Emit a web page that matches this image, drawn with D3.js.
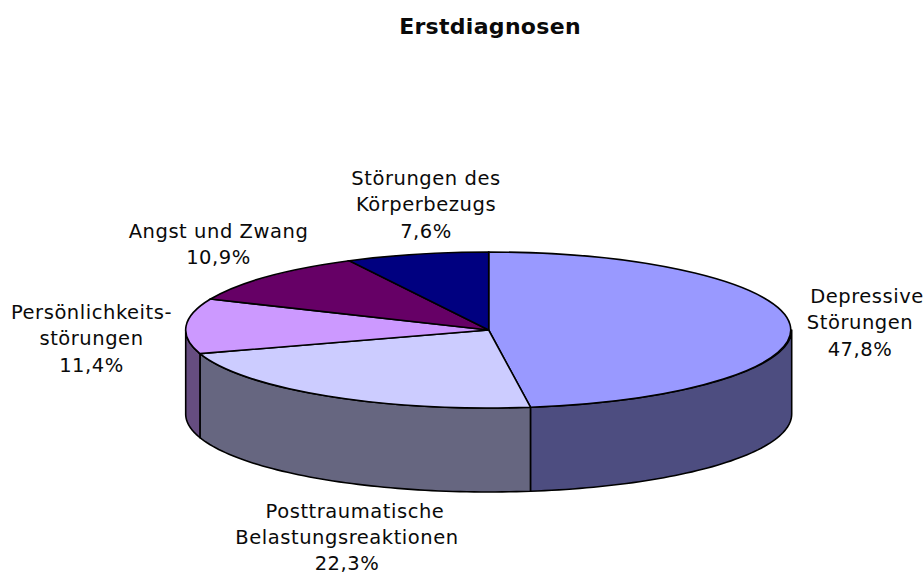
<!DOCTYPE html>
<html>
<head>
<meta charset="utf-8">
<style>
  body { margin: 0; background: #fff; }
  text { font-family: "DejaVu Sans", sans-serif; fill: #0a0a0a; }
</style>
</head>
<body>
<svg width="924" height="574"></svg>
<script src="https://d3js.org/d3.v7.min.js"></script>
<script>
  var title = 'Erstdiagnosen'
  var categories = ['Depressive|Störungen', 'Posttraumatische|Belastungsreaktionen', 'Persönlichkeits-|störungen', 'Angst und Zwang', 'Störungen des|Körperbezugs']
  var percents = [47.8, 22.3, 11.4, 10.9, 7.6]
  var topColors = ['#9999ff', '#ccccff', '#cc99ff', '#660066', '#000080']
  var wallColors = ['#4d4d80', '#666680', '#664d80', '#330033', '#000040']

  var cx = 488.7, cy = 330, rx = 303, ry = 78, depth = 84

  var svg = d3.select('svg')

  // the pie is a flat unit circle squashed by these two scales
  var x = d3.scaleLinear().domain([-1, 1]).range([cx - rx, cx + rx])
  var y = d3.scaleLinear().domain([-1, 1]).range([cy - ry, cy + ry])

  var slices = d3.pie().sort(null).value(function(d) { return d })(percents)

  function rim(a, drop) {
    return [x(Math.sin(a)), y(-Math.cos(a)) + drop]
  }

  // wall of a slice, only the part of the rim facing the viewer
  function wallPath(d) {
    var a0 = Math.max(d.startAngle, Math.PI / 2)
    var a1 = Math.min(d.endAngle, Math.PI * 3 / 2)
    if (a1 <= a0) return null
    var n = 60
    var angles = d3.range(n + 1).map(function(i) { return a0 + (a1 - a0) * i / n })
    var pts = angles.map(function(a) { return rim(a, 0) })
      .concat(angles.slice().reverse().map(function(a) { return rim(a, depth) }))
    return d3.line()(pts) + 'Z'
  }

  svg.append('g')
    .selectAll('path')
    .data(slices)
    .enter().append('path')
    .attr('d', wallPath)
    .attr('fill', function(d, i) { return wallColors[i] })
    .attr('stroke', '#000')
    .attr('stroke-width', 1.6)
    .attr('stroke-linejoin', 'round')

  var arc = d3.arc().innerRadius(0).outerRadius(1)

  svg.append('g')
    .attr('transform', 'translate(' + cx + ',' + cy + ') scale(' + rx + ',' + ry + ')')
    .selectAll('path')
    .data(slices)
    .enter().append('path')
    .attr('d', arc)
    .attr('fill', function(d, i) { return topColors[i] })
    .attr('stroke', '#000')
    .attr('stroke-width', 1.6)
    .attr('vector-effect', 'non-scaling-stroke')

  svg.append('text')
    .attr('x', 490)
    .attr('y', 33.5)
    .attr('text-anchor', 'middle')
    .attr('font-size', 22)
    .attr('letter-spacing', 0.3)
    .attr('font-weight', 'bold')
    .text(title)

  // centre x and first baseline of each label
  var labelSpots = [[860, 303], [347, 517.5], [91.5, 319], [218.5, 238], [426, 185]]
  // first lines sitting off centre in the original
  var firstLineShift = [7, 8, 0, 0, 0]

  var labels = svg.append('g')
    .attr('font-size', 19.5)
    .attr('letter-spacing', 0.55)
    .attr('text-anchor', 'middle')
    .selectAll('text')
    .data(categories)
    .enter().append('text')
    .attr('transform', function(d, i) { return 'translate(' + labelSpots[i] + ')' })

  labels.each(function(d, n) {
    var lines = d.split('|').concat(String(percents[n]).replace('.', ',') + '%')
    d3.select(this).selectAll('tspan')
      .data(lines)
      .enter().append('tspan')
      .attr('x', function(t, i) { return i === 0 ? firstLineShift[n] : 0 })
      .attr('y', function(t, i) { return i * 26.3 })
      .text(function(t) { return t })
  })
</script>
</body>
</html>
